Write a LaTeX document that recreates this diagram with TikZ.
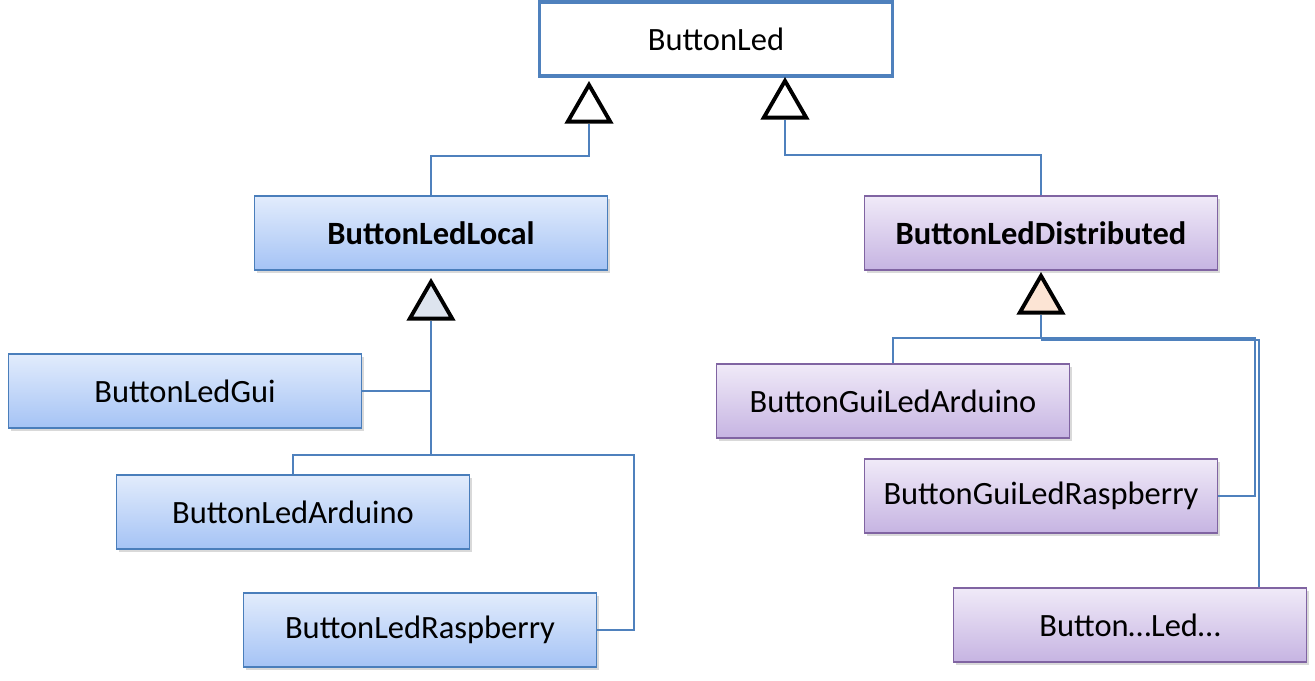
\documentclass[tikz,border=0pt]{standalone}
\usepackage{fontspec}
\setmainfont{Carlito}
\usetikzlibrary{shapes.geometric,shadows}
\definecolor{linkblue}{HTML}{4F81BD}
\definecolor{boxblue}{HTML}{4A7EBB}
\definecolor{boxpurple}{HTML}{8064A2}
\definecolor{bluetop}{HTML}{E2ECFC}
\definecolor{bluebot}{HTML}{A5C3F5}
\definecolor{purpletop}{HTML}{F0EAF8}
\definecolor{purplebot}{HTML}{C6B4E2}
\begin{document}
\begin{tikzpicture}
[x=0.02cm,y=-0.02cm,
  class/.style={rectangle,draw,minimum width=7.06cm,minimum height=1.48cm,inner sep=0pt,
    font=\fontsize{18.5}{22}\selectfont},
  local node/.style={class,draw=boxblue,line width=0.9pt,top color=bluetop,bottom color=bluebot,
    drop shadow={shadow xshift=0.05cm,shadow yshift=-0.06cm,opacity=0.3}},
  dist node/.style={class,draw=boxpurple,line width=0.9pt,top color=purpletop,bottom color=purplebot,
    drop shadow={shadow xshift=0.05cm,shadow yshift=-0.06cm,opacity=0.3}},
  tri/.style={regular polygon,regular polygon sides=3,draw=black,line width=2.2pt,
    minimum size=0.98cm,inner sep=0pt,anchor=corner 1},
  conn/.style={draw=linkblue,line width=1.1pt}]
  \useasboundingbox (0,0) rectangle (1315,680);
  \node[class,draw=linkblue,line width=2pt,fill=white] (led) at (716,39) {ButtonLed};
  \node[local node,font=\fontsize{18.5}{22}\selectfont\bfseries] (local) at (431,233) {ButtonLedLocal};
  \node[dist node,font=\fontsize{18.5}{22}\selectfont\bfseries] (dist) at (1041,233) {ButtonLedDistributed};
  \node[local node] (gui) at (185,391) {ButtonLedGui};
  \node[local node] (ard) at (293,512) {ButtonLedArduino};
  \node[local node] (rasp) at (420,630) {ButtonLedRaspberry};
  \node[dist node] (guiard) at (893,401) {ButtonGuiLedArduino};
  \node[dist node] (guirasp) at (1041,496) {ButtonGuiLedRaspberry};
  \node[dist node] (other) at (1130,625) {Button…Led…};
  % inheritance triangles
  \node[tri,fill=white] (tL) at (589,81) {};
  \node[tri,fill=white] (tR) at (785,77) {};
  \node[tri,fill={rgb,255:red,221;green,228;blue,238}] (tB) at (431,278) {};
  \node[tri,fill={rgb,255:red,252;green,228;blue,212}] (tD) at (1041,272) {};
  \coordinate (jL) at (431,455);
  \coordinate (jR) at (1041,338);
  \draw[conn] (local.north) -- ++(0,-39) -| (tL.side 2);
  \draw[conn] (dist.north) -- ++(0,-40) -| (tR.side 2);
  \draw[conn] (tB.side 2) -- (jL);
  \draw[conn] (gui.east) -- (gui.east -| jL);
  \draw[conn] (ard.north) |- (jL);
  \draw[conn] (rasp.east) -- ++(37,0) |- (jL);
  \draw[conn] (tD.side 2) -- (jR);
  \draw[conn] (guiard.north) |- (jR);
  \draw[conn] (guirasp.east) -- ++(37,0) |- (jR);
  \draw[conn] ([xshift=-0.96cm]other.north east) |- ([yshift=-0.04cm]jR);
\end{tikzpicture}
\end{document}
